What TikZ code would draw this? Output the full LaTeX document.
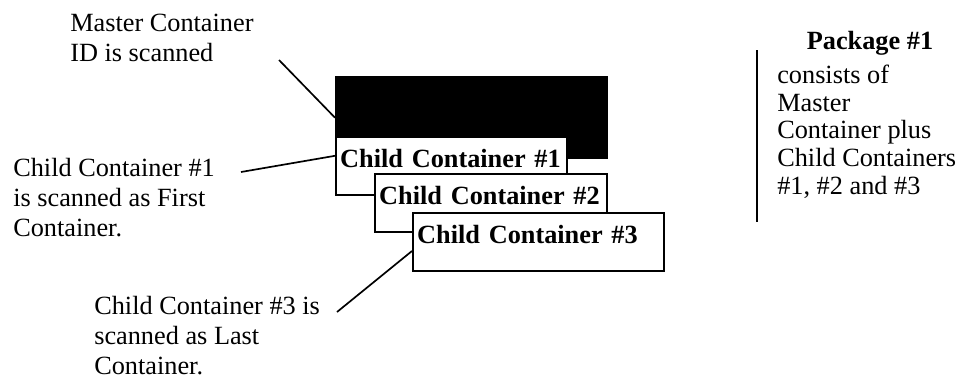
\documentclass[tikz,border=0pt]{standalone}
\usepackage{fontspec}
\setmainfont{Liberation Serif}
\usepackage{tikz}
\usetikzlibrary{positioning, calc}
\newcommand{\lblfont}{\fontsize{18.7pt}{21.3pt}\selectfont}

\begin{document}
\begin{tikzpicture}[font=\lblfont,
    childbox/.style={draw, fill=white, line width=1.7pt, anchor=north west, align=left,
        font=\lblfont\bfseries, inner ysep=0pt, inner xsep=0.1cm,
        text height=0.75cm, text depth=0.7cm},
    lbl/.style={anchor=north west, align=left, inner sep=0pt},
    pointer/.style={line width=1.2pt}]
    \useasboundingbox (0,0) rectangle (24.1,-9.575);

    % Master und Kinder
    \node[draw, fill=black, line width=1.7pt, anchor=north west, inner sep=0pt,
        minimum width=6.775cm, minimum height=2.025cm] (master) at (8.375,-1.9) {};
    \node[childbox, text width=5.575cm] (c1) at (8.375,-3.4) {Child Container \#1};
    \node[childbox, text width=5.6cm] (c2) at (9.35,-4.325) {Child Container \#2};
    \node[childbox, text width=6.075cm] (c3) at (10.3,-5.3) {Child Container \#3};

    % Beschriftungen links
    \node[lbl] (mlbl) at (1.75,-0.35) {Master Container\\ID is scanned};
    \node[lbl] (c1lbl) at (0.325,-3.95) {Child Container \#1\\is scanned as First\\Container.};
    \node[lbl] (c3lbl) at (2.35,-7.4) {Child Container \#3 is\\scanned as Last\\Container.};

    \coordinate (mtail) at (6.975,-1.5);
    \coordinate (c1tail) at (6.025,-4.3);
    \coordinate (c3tail) at (8.425,-7.8);
    \draw[pointer] (mtail) -- (master.west);
    \draw[pointer] (c1tail) -- ([yshift=0.26cm]c1.west);
    \draw[pointer] (c3tail) -- ([yshift=-0.22cm]c3.west);

    % Paket rechts
    \node[font=\lblfont\bfseries, anchor=base, inner sep=0pt] (pkghead) at (21.75,-1.225) {Package \#1};
    \node[lbl, font=\fontsize{18.7pt}{19.6pt}\selectfont] (pkg) at (19.425,-1.625)
        {consists of\\Master\\Container plus\\Child Containers\\\#1, \#2 and \#3};
    \draw[line width=1.4pt] ([xshift=-0.5cm,yshift=0.375cm]pkg.north west)
        -- ([xshift=-0.5cm,yshift=-0.6cm]pkg.south west);
\end{tikzpicture}
\end{document}
